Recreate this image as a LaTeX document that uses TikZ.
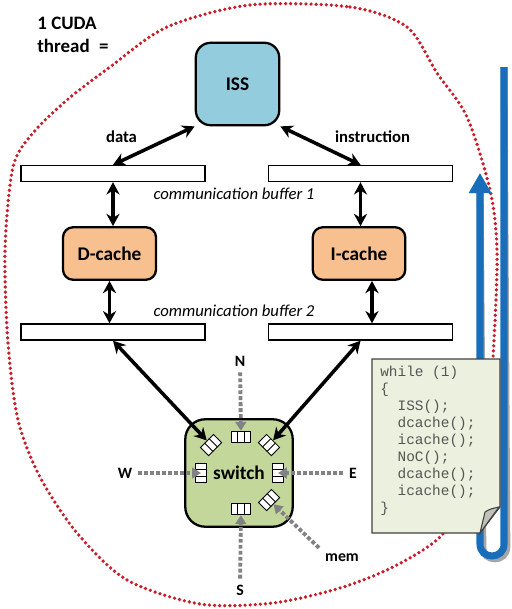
\documentclass[tikz,border=0pt]{standalone}
\usepackage{fontspec}
\setmainfont{Carlito}
\setmonofont{Liberation Mono}
\usepackage{tikz}
\usetikzlibrary{arrows.meta,calc,positioning}
\usepackage{xcolor}
\definecolor{issblue}{RGB}{147,204,220}
\definecolor{cacheorange}{RGB}{249,192,143}
\definecolor{switchgreen}{RGB}{196,215,155}
\definecolor{notegreen}{RGB}{235,241,222}
\definecolor{flapgray}{RGB}{192,194,186}
\definecolor{threadred}{RGB}{200,30,42}
\definecolor{loopblue}{RGB}{24,110,186}
\definecolor{portgray}{RGB}{130,130,130}
\definecolor{codegray}{RGB}{85,85,85}
\tikzstyle{block} = [rectangle, rounded corners=0.2cm, draw=black, line width=1.3pt, text centered, font=\fontsize{11}{13}\selectfont\bfseries]
\tikzstyle{buffer} = [rectangle, draw=black, line width=0.8pt, fill=white, minimum width=3.68cm, minimum height=0.32cm, inner sep=0pt]
\tikzstyle{fifo} = [rectangle, draw=black, line width=0.5pt, fill=white, inner sep=0pt, minimum width=0.37cm, minimum height=0.23cm]
\tikzstyle{arrow} = [line width=2pt, {Stealth[length=7pt,width=7.5pt]}-{Stealth[length=7pt,width=7.5pt]}]
\tikzstyle{port} = [line width=2.2pt, color=portgray, dash pattern=on 2.2pt off 1.2pt, -{Triangle[length=5pt,width=6pt]}]
\tikzstyle{lbl} = [font=\fontsize{9.5}{11}\selectfont\bfseries]
\tikzstyle{dirlbl} = [font=\fontsize{9}{11}\selectfont\bfseries]
\tikzstyle{bufname} = [font=\fontsize{9.5}{11}\selectfont\itshape]
\tikzstyle{threadline} = [threadred, line width=2.1pt, line cap=round, dash pattern=on 0pt off 2.9pt]
\tikzstyle{cycleline} = [loopblue, line width=4pt, -{Triangle[length=0.4cm,width=0.42cm]}]

\begin{document}
\begin{tikzpicture}[x=0.02cm, y=-0.02cm]
\useasboundingbox (0,0) rectangle (511,609);
% the thread
\draw [threadline] plot[smooth cycle] coordinates {(250,5) (350,7) (407,27) (437,73) (467,117) (490,190) (497,250) (494,340) (487,430) (470,490) (440,537) (393,567) (340,588) (273,603) (200,604) (127,580) (77,533) (40,477) (18,420) (8,343) (5,250) (13,167) (33,133) (67,100) (110,67) (167,27)};
\node (title) [font=\fontsize{10.8}{13}\selectfont\bfseries, align=left, anchor=north west, inner sep=0pt] at (37,17) {1 CUDA\\thread\hspace{0.5em}=};

% blocks
\node (iss) [block, fill=issblue, minimum width=1.67cm, minimum height=1.65cm, rounded corners=0.3cm] at (237.5,84) {ISS};
\node (buf1l) [buffer] at (113,173.5) {};
\node (buf1r) [buffer] at (360.5,173.5) {};
\node (dcache) [block, fill=cacheorange, minimum width=1.86cm, minimum height=1.05cm] at (109.5,253.5) {D-cache};
\node (icache) [block, fill=cacheorange, minimum width=1.85cm, minimum height=1.05cm] at (359,253.5) {I-cache};
\node (buf2l) [buffer] at (113,332) {};
\node (buf2r) [buffer] at (360.5,332) {};
\node (switch) [block, fill=switchgreen, minimum width=2.15cm, minimum height=2.15cm, rounded corners=0.4cm] at (239,473) {switch};
\node (cb1) [bufname] at (234,194) {communication buffer 1};
\node (cb2) [bufname] at (234,311) {communication buffer 2};
\node (data) [lbl] at (121.5,137) {data};
\node (instr) [lbl] at (372.5,137) {instruction};

% switch ports
\node (fn) [fifo] at (241,437) {};
\node (fs) [fifo] at (241,509) {};
\node (fw) [fifo, rotate=90] at (201,473) {};
\node (fe) [fifo, rotate=90] at (278,473) {};
\node (fnw) [fifo, rotate=45] at (211,445) {};
\node (fne) [fifo, rotate=-45] at (269,445) {};
\node (fse) [fifo, rotate=45] at (269,500) {};
\foreach \f in {fn,fs,fw,fe,fnw,fne,fse} {
  \draw [line width=0.5pt] ($(\f.north west)!1/3!(\f.north east)$) -- ($(\f.south west)!1/3!(\f.south east)$);
  \draw [line width=0.5pt] ($(\f.north west)!2/3!(\f.north east)$) -- ($(\f.south west)!2/3!(\f.south east)$);
}
\node (n) [dirlbl] at (240,361) {N};
\node (s) [dirlbl] at (240,590) {S};
\node (w) [dirlbl] at (125,473) {W};
\node (e) [dirlbl] at (353,473) {E};
\node (mem) [dirlbl] at (342,558) {mem};

\draw [arrow] (buf1l.north) -- (iss.south west);
\draw [arrow] (buf1r.north) -- (iss.south east);
\draw [arrow] (buf1l.south) -- (buf1l.south |- dcache.north);
\draw [arrow] (dcache.south) -- (dcache.south |- buf2l.north);
\draw [arrow] (buf1r.south) -- (buf1r.south |- icache.north);
\draw [arrow] ([xshift=0.26cm]icache.south) -- ([xshift=0.26cm]icache.south |- buf2r.north);
\draw [arrow] (buf2l.south) -- (fnw);
\draw [arrow] (buf2r.south) -- (fne);
\draw [port] (n) -- (fn);
\draw [port] (s) -- (fs);
\draw [port] (w) -- (fw.center);
\draw [port] (e) -- (fe.center);
\draw [port] (mem.north west) -- (fse);

% loop
\coordinate (looptop) at (504,67);
\coordinate (loophead) at (480,173);
\draw [cycleline, draw=gray!70, xshift=1.6pt, yshift=-1.6pt] (looptop) -- (504,544) .. controls (504,560) and (480,560) .. (480,544) -- (loophead);
\draw [cycleline] (looptop) -- (504,544) .. controls (504,560) and (480,560) .. (480,544) -- (loophead);

% code note
\filldraw [fill=notegreen, draw=black!75, line width=0.6pt] (372,359) -- (500,359) -- (500,507) -- (480,533) -- (372,533) -- cycle;
\filldraw [fill=flapgray, draw=black!75, line width=0.6pt] (480,533) -- (485,512) .. controls (490,509) .. (499,507) -- cycle;
\node (code) [anchor=north west, inner sep=0pt, align=left, text=codegray, font=\fontsize{8.2}{9.65}\selectfont\ttfamily] at (380,366) {while (1)\\\{\\\hspace*{1.2em}ISS();\\\hspace*{1.2em}dcache();\\\hspace*{1.2em}icache();\\\hspace*{1.2em}NoC();\\\hspace*{1.2em}dcache();\\\hspace*{1.2em}icache();\\\}};
\end{tikzpicture}
\end{document}
